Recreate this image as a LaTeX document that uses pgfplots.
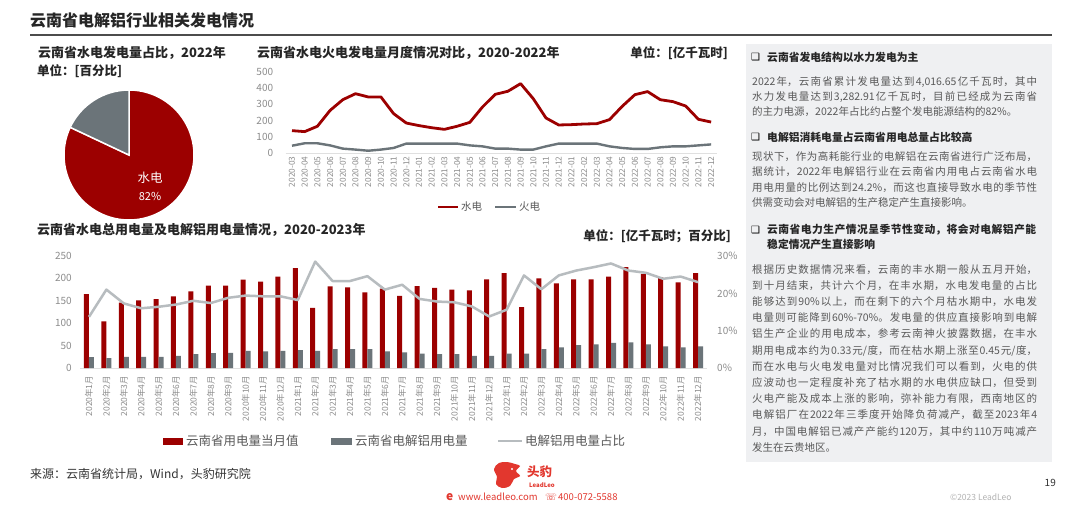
\documentclass[border=0pt]{standalone}
\usepackage{pgfplots}
\pgfplotsset{compat=1.18}
\usepackage{pgfplotstable}
\usepackage{fontspec}
\setmainfont{Noto Sans CJK SC}
\newfontfamily\dejavu{DejaVu Sans}
\XeTeXlinebreaklocale "zh"
\XeTeXlinebreakskip=0pt plus 3pt
\definecolor{dred}{HTML}{9C0000}
\definecolor{dgray}{HTML}{6B7479}
\definecolor{lgray}{HTML}{B7BCBF}
\definecolor{tgray}{HTML}{595959}
\definecolor{tickc}{HTML}{8C8C8C}
\definecolor{panel}{HTML}{EFF0F2}
\definecolor{logored}{HTML}{E2372E}
\newcommand\jl[1]{\parfillskip=0pt #1\par}
\newcommand\lastl[1]{\parfillskip=0pt plus 1fil #1\par}
\newcommand\parsetup{\parindent=0pt\leftskip=0pt\rightskip=0pt\tolerance=10000\hbadness=10000}
\newcommand\cbox{{\dejavu\fontsize{10}{12}\selectfont ❑}}

\pgfplotstableread{
i h t
0 138 45
1 132 60
2 165 60
3 263 47
4 329 27
5 366 21
6 346 14
7 346 21
8 243 31
9 185 58
10 169 58
11 156 58
12 146 58
13 165 58
14 189 47
15 284 41
16 362 27
17 381 27
18 428 21
19 335 21
20 216 41
21 173 58
22 175 58
23 179 58
24 181 58
25 206 41
26 288 31
27 360 25
28 379 25
29 329 35
30 317 41
31 290 41
32 208 47
33 191 53
}\topdata

\pgfplotstableread{
i r g p
0 165 24 13.7
1 104 22 21.0
2 146 25 17.3
3 151 25 16.0
4 154 25 16.4
5 160 27 17.0
6 171 31 18.0
7 184 33 17.4
8 184 34 18.8
9 197 38 19.4
10 193 37 19.2
11 204 38 19.2
12 223 40 18.2
13 134 38 28.5
14 182 42 23.3
15 180 42 23.3
16 169 42 24.6
17 177 37 21.0
18 161 35 22.3
19 183 32 18.5
20 179 31 17.8
21 175 31 17.6
22 173 27 16.5
23 198 27 13.8
24 212 32 15.6
25 136 32 24.8
26 200 42 21.1
27 189 46 24.8
28 198 51 26.1
29 198 53 27.0
30 204 56 28.0
31 225 57 26.1
32 210 53 25.5
33 203 48 23.9
34 191 46 24.5
35 212 48 23.0
}\botdata

\def\hydro{82}

\begin{document}
\begin{tikzpicture}
\begin{scope}[x=1pt,y=1pt]
\fill[white] (0,0) rectangle (1080,507);

% main title
\node[anchor=west, inner sep=0pt, font=\fontsize{16}{18}\selectfont\bfseries, text=black!85] at (30,487) {云南省电解铝行业相关发电情况};
\draw[line width=2pt, black!70] (30,472) -- (1052,472);

% ---------- pie ----------
\node[anchor=west, inner sep=0pt, font=\fontsize{13}{15}\selectfont\bfseries, text=black!85] at (38,454) {云南省水电发电量占比，2022年};
\node[anchor=west, inner sep=0pt, font=\fontsize{12.5}{15}\selectfont\bfseries, text=black!85] at (37,436) {单位：[百分比]};
\path[fill=dred, draw=white, line width=1.5pt] (129,352) -- ++(90:65) arc[start angle=90, end angle={90-3.6*\hydro}, radius=65] -- cycle;
\path[fill=dgray, draw=white, line width=1.5pt] (129,352) -- ++(90:65) arc[start angle=90, end angle={90+3.6*(100-\hydro)}, radius=65] -- cycle;
\node[text=white, font=\fontsize{12.5}{14}\selectfont] at (150,329) {水电};
\node[text=white, font=\fontsize{11}{13}\selectfont] at (150,311) {\hydro\%};

% ---------- titles ----------
\node[anchor=west, inner sep=0pt, font=\fontsize{13}{15}\selectfont\bfseries, text=black!85] at (257,454) {云南省水电火电发电量月度情况对比，2020-2022年};
\node[anchor=east, inner sep=0pt, font=\fontsize{12.5}{15}\selectfont\bfseries, text=black!85] at (728,454) {单位：[亿千瓦时]};
% top legend
\draw[dred, line width=2.8pt] (438,300) -- (458,300);
\node[anchor=west, inner sep=0pt, font=\fontsize{10.5}{12}\selectfont, text=tgray] at (461,300) {水电};
\draw[dgray, line width=2.4pt] (495,300) -- (516,300);
\node[anchor=west, inner sep=0pt, font=\fontsize{10.5}{12}\selectfont, text=tgray] at (519,300) {火电};

\node[anchor=west, inner sep=0pt, font=\fontsize{13}{15}\selectfont\bfseries, text=black!85] at (37,277) {云南省水电总用电量及电解铝用电量情况，2020-2023年};
\node[anchor=east, inner sep=0pt, font=\fontsize{12.5}{15}\selectfont\bfseries, text=black!85] at (731,271) {单位：[亿千瓦时；百分比]};
% bottom legend
\fill[dred] (163,62.5) rectangle (183,69.5);
\node[anchor=west, inner sep=0pt, font=\fontsize{12.5}{14}\selectfont, text=tgray] at (186,66) {云南省用电量当月值};
\fill[dgray] (331,62.5) rectangle (352,69.5);
\node[anchor=west, inner sep=0pt, font=\fontsize{12.5}{14}\selectfont, text=tgray] at (355,66) {云南省电解铝用电量};
\draw[lgray, line width=2.5pt] (498,66) -- (522,66);
\node[anchor=west, inner sep=0pt, font=\fontsize{12.5}{14}\selectfont, text=tgray] at (525,66) {电解铝用电量占比};

% ---------- right panel ----------
\fill[panel] (746,45) rectangle (1052,463);
\node[anchor=west, inner sep=0pt] at (751,450) {\cbox};
\node[anchor=west, inner sep=0pt, font=\fontsize{10.8}{13}\selectfont\bfseries, text=black!85] at (767,450) {云南省发电结构以水力发电为主};
\node[anchor=north west, inner sep=0pt, text width=285pt, font=\fontsize{10.5}{15}\selectfont, text=tgray] at (752,430.5) {\parsetup
\jl{2022年，云南省累计发电量达到4,016.65亿千瓦时，其中}
\jl{水力发电量达到3,282.91亿千瓦时，目前已经成为云南省}
\lastl{的主力电源，2022年占比约占整个发电能源结构的82\%。}};
\node[anchor=west, inner sep=0pt] at (751,370) {\cbox};
\node[anchor=west, inner sep=0pt, font=\fontsize{10.8}{13}\selectfont\bfseries, text=black!85] at (767,370) {电解铝消耗电量占云南省用电总量占比较高};
\node[anchor=north west, inner sep=0pt, text width=285pt, font=\fontsize{10.5}{15.3}\selectfont, text=tgray] at (752,355.5) {\parsetup
\jl{现状下，作为高耗能行业的电解铝在云南省进行广泛布局，}
\jl{据统计，2022年电解铝行业在云南省内用电占云南省水电}
\jl{用电用量的比例达到24.2\%，而这也直接导致水电的季节性}
\lastl{供需变动会对电解铝的生产稳定产生直接影响。}};
\node[anchor=west, inner sep=0pt] at (751,277) {\cbox};
\node[anchor=north west, inner sep=0pt, text width=269pt, font=\fontsize{10.8}{15}\selectfont\bfseries, text=black!85] at (767,283.5) {\parsetup
\jl{云南省电力生产情况呈季节性变动，将会对电解铝产能}
\lastl{稳定情况产生直接影响}};
\node[anchor=north west, inner sep=0pt, text width=285pt, font=\fontsize{10.5}{16.2}\selectfont, text=tgray] at (752,243) {\parsetup
\jl{根据历史数据情况来看，云南的丰水期一般从五月开始，}
\jl{到十月结束，共计六个月，在丰水期，水电发电量的占比}
\jl{能够达到90\%以上，而在剩下的六个月枯水期中，水电发}
\jl{电量则可能降到60\%-70\%。发电量的供应直接影响到电解}
\jl{铝生产企业的用电成本，参考云南神火披露数据，在丰水}
\jl{期用电成本约为0.33元/度，而在枯水期上涨至0.45元/度，}
\jl{而在水电与火电发电量对比情况我们可以看到，火电的供}
\jl{应波动也一定程度补充了枯水期的水电供应缺口，但受到}
\jl{火电产能及成本上涨的影响，弥补能力有限，西南地区的}
\jl{电解铝厂在2022年三季度开始降负荷减产，截至2023年4}
\jl{月，中国电解铝已减产产能约120万，其中约110万吨减产}
\lastl{发生在云贵地区。}};

% ---------- footer ----------
\node[anchor=west, inner sep=0pt, font=\fontsize{12}{14}\selectfont, text=black!80] at (30,33) {来源：云南省统计局，Wind，头豹研究院};
\fill[logored] plot[smooth cycle, tension=0.6] coordinates {(494,38) (499,44) (507,45) (515,43) (520,41) (516,36) (520,31) (514,28) (510,21) (502,19) (496,23) (497,30)};
\fill[white] (512,38) circle[radius=1.2];
\node[anchor=west, inner sep=0pt, font=\fontsize{12.5}{14}\selectfont\bfseries, text=logored] at (527,35) {头豹};
\node[anchor=west, inner sep=0pt, font=\fontsize{6}{7}\selectfont\bfseries\itshape, text=logored] at (529,22) {LeadLeo};
\node[anchor=west, inner sep=0pt, font=\fontsize{12}{13}\selectfont\bfseries, text=logored] at (446,10) {e};
\node[anchor=west, inner sep=0pt, font=\fontsize{9.5}{11}\selectfont, text=logored] at (458,10) {www.leadleo.com};
\node[anchor=west, inner sep=0pt, font=\fontsize{9.5}{11}\selectfont, text=logored] at (545,10) {{\dejavu ☏}};
\node[anchor=west, inner sep=0pt, font=\fontsize{9.5}{11}\selectfont, text=logored] at (558,10) {400-072-5588};
\node[anchor=east, inner sep=0pt, font=\fontsize{10}{12}\selectfont, text=black!80] at (1056,24) {19};
\node[anchor=west, inner sep=0pt, font=\fontsize{8.5}{10}\selectfont, text=black!30] at (950,10) {©2023 LeadLeo};
\end{scope}

% ---------- top line chart ----------
\begin{axis}[at={(285.65pt,354pt)}, anchor=south west, scale only axis,
  width=431.8pt, height=81pt, xmin=-0.5, xmax=33.5, ymin=0, ymax=500,
  axis x line*=bottom, axis y line*=left,
  x axis line style={draw=black!12, line width=0.8pt, -},
  y axis line style={draw=none}, tick style={draw=none},
  ytick={0,100,...,500}, xtick={0,...,33},
  xticklabels={2020-03,2020-04,2020-05,2020-06,2020-07,2020-08,2020-09,2020-10,2020-11,2020-12,2021-01,2021-02,2021-03,2021-04,2021-05,2021-06,2021-07,2021-08,2021-09,2021-10,2021-11,2021-12,2022-01,2022-02,2022-03,2022-04,2022-05,2022-06,2022-07,2022-08,2022-09,2022-10,2022-11,2022-12},
  xticklabel style={rotate=90, anchor=east, font=\fontsize{8.3}{9}\selectfont, text=tickc},
  yticklabel style={font=\fontsize{10}{12}\selectfont, text=tickc, xshift=-9pt},
  /pgf/number format/assume math mode=true,
  clip=false]
\addplot[dred, line width=2.8pt, line join=round] table[x=i, y=h] {\topdata};
\addplot[dgray, line width=2.4pt, line join=round] table[x=i, y=t] {\topdata};
\end{axis}

% ---------- bottom chart ----------
\begin{axis}[at={(80.3pt,139pt)}, anchor=south west, scale only axis,
  width=626.4pt, height=112pt, xmin=-0.5, xmax=35.5, ymin=0, ymax=250,
  axis x line*=bottom, axis y line*=left,
  x axis line style={draw=black!12, line width=0.8pt, -},
  y axis line style={draw=none}, tick style={draw=none},
  ybar=0pt, bar width=5pt,
  ytick={0,50,...,250}, xtick={0,...,35},
  xticklabels={2020年1月,2020年2月,2020年3月,2020年4月,2020年5月,2020年6月,2020年7月,2020年8月,2020年9月,2020年10月,2020年11月,2020年12月,2021年1月,2021年2月,2021年3月,2021年4月,2021年5月,2021年6月,2021年7月,2021年8月,2021年9月,2021年10月,2021年11月,2021年12月,2022年1月,2022年2月,2022年3月,2022年4月,2022年5月,2022年6月,2022年7月,2022年8月,2022年9月,2022年10月,2022年11月,2022年12月},
  xticklabel style={rotate=90, anchor=east, font=\fontsize{8.5}{10}\selectfont, text=tickc},
  yticklabel style={font=\fontsize{10}{12}\selectfont, text=tickc, xshift=-5pt},
  /pgf/number format/assume math mode=true]
\addplot[fill=dred, draw=none] table[x=i, y=r] {\botdata};
\addplot[fill=dgray, draw=none] table[x=i, y=g] {\botdata};
\end{axis}
\begin{axis}[at={(80.3pt,139pt)}, anchor=south west, scale only axis,
  width=626.4pt, height=112pt, xmin=-0.5, xmax=35.5, ymin=0, ymax=30,
  axis x line=none, axis y line*=right,
  y axis line style={draw=none}, tick style={draw=none},
  ytick={0,10,20,30}, yticklabel={\pgfmathprintnumber{\tick}\%},
  yticklabel style={font=\fontsize{10}{12}\selectfont, text=tickc, xshift=7pt},
  /pgf/number format/assume math mode=true]
\addplot[lgray, line width=2.5pt, line join=round] table[x=i, y=p] {\botdata};
\end{axis}
\end{tikzpicture}
\end{document}
